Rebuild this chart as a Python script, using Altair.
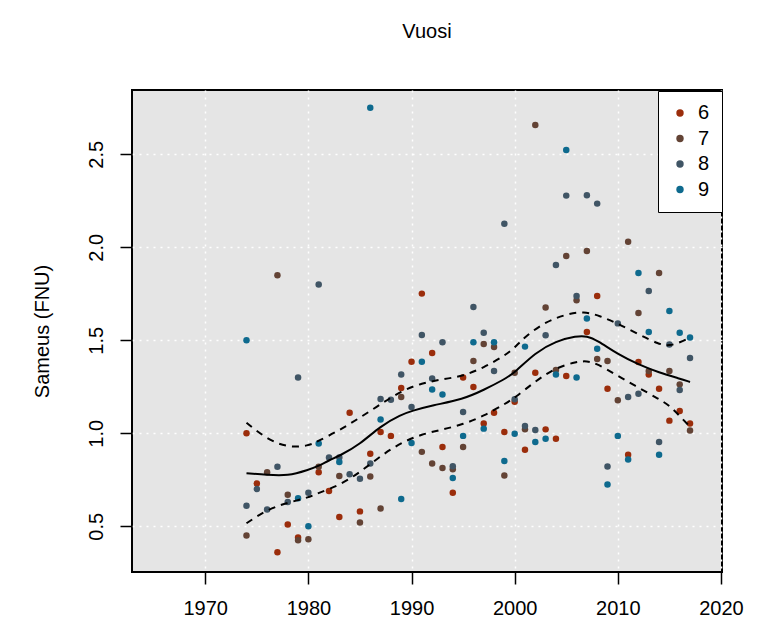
import altair as alt
import pandas as pd

# ---- observations by month ----
years_6 = [1974, 1975, 1977, 1978, 1979, 1981, 1982, 1983, 1984, 1985, 1986, 1987, 1988, 1989, 1990,
           1991, 1992, 1993, 1994, 1995, 1996, 1997, 1998, 1999, 2000, 2001, 2002, 2003, 2004, 2005,
           2007, 2008, 2009, 2011, 2012, 2013, 2014, 2015, 2016, 2017]
vals_6 = [1.00, 0.73, 0.36, 0.51, 0.44, 0.79, 0.69, 0.55, 1.11, 0.58, 0.89, 1.007, 0.986, 1.244, 1.385,
          1.751, 1.432, 0.926, 0.68, 1.30, 1.249, 1.052, 1.111, 1.007, 1.17, 0.912, 1.326, 1.021, 0.971, 1.308,
          1.545, 1.738, 1.24, 0.885, 1.383, 1.316, 1.24, 1.068, 1.12, 1.052]

years_7 = [1974, 1976, 1977, 1978, 1979, 1980, 1981, 1983, 1985, 1986, 1987, 1989, 1991, 1992, 1993,
           1994, 1995, 1996, 1997, 1998, 1999, 2000, 2001, 2002, 2003, 2004, 2005, 2006, 2007, 2008,
           2009, 2010, 2011, 2012, 2013, 2014, 2015, 2016, 2017]
vals_7 = [0.45, 0.79, 1.85, 0.67, 0.425, 0.43, 0.82, 0.77, 0.52, 0.767, 0.595, 1.195, 0.90, 0.837, 0.813,
          0.806, 0.926, 1.389, 1.48, 1.464, 0.773, 1.326, 1.021, 2.658, 1.676, 1.34, 1.953, 1.715, 1.98, 1.40,
          1.389, 1.177, 2.03, 1.647, 1.335, 1.862, 1.335, 1.263, 1.015]

years_8 = [1974, 1975, 1976, 1977, 1978, 1979, 1980, 1981, 1982, 1983, 1984, 1985, 1986, 1987, 1988,
           1989, 1990, 1991, 1992, 1993, 1994, 1995, 1996, 1997, 1998, 1999, 2000, 2001, 2002, 2003,
           2004, 2005, 2006, 2007, 2008, 2009, 2010, 2011, 2012, 2013, 2014, 2015, 2016, 2017]
vals_8 = [0.61, 0.70, 0.59, 0.82, 0.63, 1.30, 0.68, 1.80, 0.87, 0.87, 0.78, 0.756, 0.837, 1.184, 1.18,
          1.316, 1.141, 1.528, 1.294, 1.49, 0.823, 1.115, 1.679, 1.541, 1.335, 2.127, 1.183, 1.039, 1.018, 1.527,
          1.905, 2.278, 1.738, 2.28, 2.235, 0.821, 1.591, 1.195, 1.213, 1.765, 0.953, 1.477, 1.233, 1.405]

years_9 = [1974, 1979, 1980, 1981, 1983, 1986, 1987, 1989, 1990, 1991, 1992, 1993, 1994, 1995, 1996,
           1997, 1998, 1999, 2000, 2001, 2002, 2003, 2004, 2005, 2006, 2007, 2008, 2009, 2010, 2011,
           2012, 2013, 2014, 2015, 2016, 2017]
vals_9 = [1.50, 0.65, 0.50, 0.945, 0.846, 2.75, 1.074, 0.647, 0.948, 1.385, 1.235, 1.208, 0.76, 0.986, 1.49,
          1.025, 1.49, 0.851, 0.998, 1.466, 0.953, 0.971, 1.316, 2.523, 1.30, 1.617, 1.455, 0.724, 0.986, 0.859,
          1.862, 1.545, 0.885, 1.658, 1.541, 1.515]

# ---- smoothed trend and confidence band ----
fit_years = [1974, 1976, 1978, 1980, 1981, 1982, 1983, 1985, 1987, 1989, 1990, 1992, 1995, 1997, 1999,
             2000, 2002, 2004, 2006, 2007, 2008, 2010, 2012, 2014, 2016, 2017]
fit_vals = [0.785, 0.776, 0.77, 0.803, 0.824, 0.855, 0.878, 0.94, 1.04, 1.10, 1.12, 1.15, 1.183, 1.233, 1.29,
            1.326, 1.434, 1.496, 1.523, 1.523, 1.50, 1.425, 1.37, 1.326, 1.294, 1.276]

upper_years = [1974, 1976, 1978, 1980, 1981, 1983, 1985, 1987, 1989, 1991, 1993, 1995, 1997, 1999, 2000,
               2001, 2003, 2005, 2006.7, 2008.3, 2010, 2012, 2014, 2015, 2016, 2017]
upper_vals = [1.057, 0.968, 0.923, 0.932, 0.959, 1.016, 1.084, 1.156, 1.227, 1.27, 1.29, 1.308, 1.353, 1.416, 1.46,
              1.52, 1.60, 1.64, 1.657, 1.63, 1.59, 1.532, 1.478, 1.47, 1.488, 1.515]

lower_years = [1974, 1976, 1978, 1980, 1981, 1983, 1985, 1987, 1989, 1991, 1993, 1995, 1997, 1999, 2000,
               2002, 2004, 2006, 2007, 2008, 2010, 2012, 2014, 2015, 2016, 2017]
lower_vals = [0.516, 0.59, 0.627, 0.654, 0.68, 0.72, 0.79, 0.878, 0.95, 0.995, 1.02, 1.048, 1.093, 1.156, 1.19,
              1.28, 1.353, 1.385, 1.389, 1.375, 1.308, 1.246, 1.183, 1.15, 1.093, 1.035]

months = ["6", "7", "8", "9"]
month_colors = ["#9B2D0B", "#634335", "#405565", "#0E6A8E"]
x_ticks = [1970, 1980, 1990, 2000, 2010, 2020]
y_ticks = [0.5, 1.0, 1.5, 2.0, 2.5]

rows = []
for m, ys, vs in zip(months, [years_6, years_7, years_8, years_9], [vals_6, vals_7, vals_8, vals_9]):
    for y, v in zip(ys, vs):
        rows.append({"Vuosi": y, "Sameus": v, "kk": m})
pts = pd.DataFrame(rows)

fit_df = pd.DataFrame({"Vuosi": fit_years, "Sameus": fit_vals})
up_df = pd.DataFrame({"Vuosi": upper_years, "Sameus": upper_vals})
lo_df = pd.DataFrame({"Vuosi": lower_years, "Sameus": lower_vals})

FONT = "Liberation Sans"

x_scale = alt.Scale(domain=[1962.9, 2020.1], nice=False, zero=False)
y_scale = alt.Scale(domain=[0.254, 2.846], nice=False, zero=False)

x_enc = alt.X("Vuosi:Q", scale=x_scale,
              axis=alt.Axis(values=x_ticks, format="d", title=None, domain=False,
                            tickSize=12, tickWidth=1.5, tickColor="black",
                            labelFontSize=20, labelFont=FONT, labelColor="black", labelPadding=14,
                            grid=True, gridColor="white", gridDash=[2, 5], gridWidth=1.5,
                            labelFlush=False))
y_enc = alt.Y("Sameus:Q", scale=y_scale,
              axis=alt.Axis(values=y_ticks, format=".1f", title="Sameus (FNU)", domain=False,
                            tickSize=12, tickWidth=1.5, tickColor="black",
                            labelFontSize=20, labelFont=FONT, labelColor="black",
                            labelAngle=270, labelAlign="center", labelBaseline="bottom", labelPadding=14,
                            titleFontSize=20, titleFont=FONT, titleFontWeight="normal", titleColor="black",
                            titleAngle=270, titleX=-90, titleY=241, titleAlign="center", titleBaseline="middle",
                            grid=True, gridColor="white", gridDash=[2, 5], gridWidth=1.5,
                            labelFlush=False))

points = alt.Chart(pts).mark_circle(size=42, opacity=1).encode(
    x=x_enc, y=y_enc,
    color=alt.Color("kk:N", scale=alt.Scale(domain=months, range=month_colors),
                    legend=alt.Legend(title=None, orient="none", legendX=526, legendY=1,
                                      fillColor="white", strokeColor="black",
                                      padding=12, labelFontSize=20, labelFont=FONT, labelColor="black",
                                      symbolType="circle", symbolSize=55, symbolStrokeWidth=0,
                                      rowPadding=5.5, labelOffset=8))
)

fit_line = alt.Chart(fit_df).mark_line(color="black", strokeWidth=2, interpolate="basis").encode(
    x="Vuosi:Q", y="Sameus:Q")
up_line = alt.Chart(up_df).mark_line(color="black", strokeWidth=2, strokeDash=[7, 6], interpolate="basis").encode(
    x="Vuosi:Q", y="Sameus:Q")
lo_line = alt.Chart(lo_df).mark_line(color="black", strokeWidth=2, strokeDash=[7, 6], interpolate="basis").encode(
    x="Vuosi:Q", y="Sameus:Q")

chart = alt.layer(points, fit_line, up_line, lo_line).properties(
    width=590, height=482,
    title=alt.TitleParams("Vuosi", fontSize=20, font=FONT, fontWeight="normal", color="black",
                          anchor="middle", baseline="alphabetic", offset=32),
    autosize=alt.AutoSizeParams(type="none"),
    padding={"left": 132, "top": 90, "right": 43, "bottom": 65},
).configure(
    background="white",
    view=alt.ViewConfig(fill="#E5E5E5", stroke="black", strokeWidth=2),
)

chart.save("out.html", embed_options={"renderer": "svg", "actions": False})
